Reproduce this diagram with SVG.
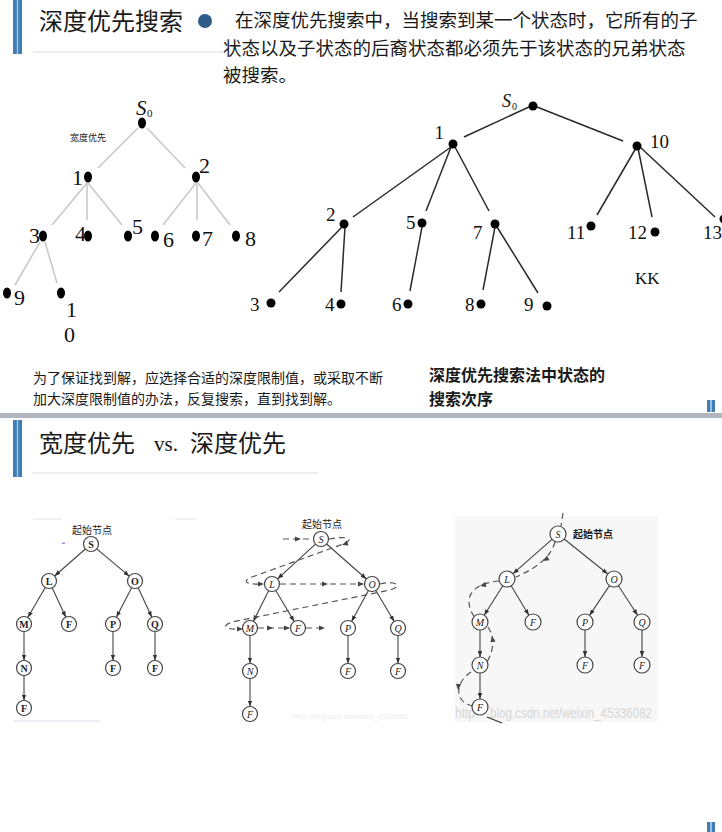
<svg xmlns="http://www.w3.org/2000/svg" xmlns:xlink="http://www.w3.org/1999/xlink" width="722" height="832" viewBox="0 0 722 832">
<style>
.cjk{font-family:"Noto Sans CJK SC","Noto Sans",sans-serif;fill:#1a1a1a}
.ser{font-family:"Liberation Serif","Times New Roman",serif;fill:#111}
.lt{stroke:#c9c9c9;stroke-width:1.6;fill:none}
.rt{stroke:#2a2a2a;stroke-width:1.5;fill:none}
.dot{fill:#000}
.te{stroke:#444;stroke-width:1.1;fill:none;marker-end:url(#ar)}
.nd{fill:#fff;stroke:#444;stroke-width:1.2}
.lb{font-family:"Liberation Serif","Times New Roman",serif;font-size:10px;fill:#222;text-anchor:middle}
.lbb{font-weight:bold}
.lbi{font-style:italic}
.ds{stroke:#555;stroke-width:1.2;fill:none;stroke-dasharray:6 4}
.bar{fill:#3f7db5}
.wm{font-family:"Liberation Sans",sans-serif}
</style>
<defs>
<marker id="ar" viewBox="0 0 8 6" refX="8" refY="3" markerWidth="6" markerHeight="5" orient="auto" markerUnits="userSpaceOnUse"><path d="M0,0 L8,3 L0,6 Z" fill="#333"/></marker>
<path id="ah" d="M0,0 L-6,-2.6 L-6,2.6 Z" fill="#444"/>
</defs>
<rect width="722" height="832" fill="#fff"/>

<!-- header 1 -->
<g id="header1">
<rect x="13" y="0" width="9" height="54" fill="#a9c4df"/>
<rect class="bar" x="13" y="0" width="3.8" height="54"/>
<rect class="bar" x="18.2" y="0" width="3.8" height="54"/>
<line x1="33" y1="52" x2="223" y2="52" stroke="#dedede" stroke-width="1"/>
<text class="cjk" x="39" y="30" font-size="24">深度优先搜索</text>
<circle cx="205" cy="21" r="7" fill="#2e5b87"/>
<text class="cjk" x="235" y="27" font-size="18.5">在深度优先搜索中，当搜索到某一个状态时，它所有的子</text>
<text class="cjk" x="223" y="55" font-size="18.5">状态以及子状态的后裔状态都必须先于该状态的兄弟状态</text>
<text class="cjk" x="223" y="82" font-size="18.5">被搜索。</text>
</g>

<!-- left tree (breadth first) -->
<g id="conn-left">
<line class="lt" x1="138" y1="128" x2="98" y2="168"/>
<line class="lt" x1="147" y1="128" x2="185" y2="168"/>
<line class="lt" x1="87" y1="183" x2="52" y2="225"/>
<line class="lt" x1="87" y1="183" x2="87" y2="220"/>
<line class="lt" x1="88" y1="183" x2="122" y2="225"/>
<line class="lt" x1="196" y1="183" x2="163" y2="225"/>
<line class="lt" x1="197" y1="183" x2="197" y2="220"/>
<line class="lt" x1="198" y1="183" x2="230" y2="225"/>
<line class="lt" x1="40" y1="242" x2="15" y2="285"/>
<line class="lt" x1="45" y1="242" x2="57" y2="283"/>
</g>
<g id="ltree-S0"><ellipse class="dot" cx="142" cy="123" rx="4" ry="5.5"/><text class="ser" x="136" y="115" font-size="21" font-style="italic">S</text><text class="ser" x="147" y="117" font-size="11">0</text></g>
<text class="cjk" x="70" y="141" font-size="9" fill="#333">宽度优先</text>
<g id="ltree-1"><ellipse class="dot" cx="88" cy="177" rx="4" ry="5.5"/><text class="ser" x="83" y="185" font-size="22" text-anchor="end">1</text></g>
<g id="ltree-2"><ellipse class="dot" cx="196" cy="177" rx="4" ry="5.5"/><text class="ser" x="199" y="173" font-size="22">2</text></g>
<g id="ltree-3"><ellipse class="dot" cx="43" cy="236" rx="4" ry="5.5"/><text class="ser" x="40" y="243" font-size="22" text-anchor="end">3</text></g>
<g id="ltree-4"><ellipse class="dot" cx="88" cy="236" rx="4" ry="5.5"/><text class="ser" x="86" y="241" font-size="22" text-anchor="end">4</text></g>
<g id="ltree-5"><ellipse class="dot" cx="128" cy="236" rx="4" ry="5.5"/><text class="ser" x="132" y="234" font-size="22">5</text></g>
<g id="ltree-6"><ellipse class="dot" cx="155" cy="236" rx="4" ry="5.5"/><text class="ser" x="163" y="247" font-size="22">6</text></g>
<g id="ltree-7"><ellipse class="dot" cx="196" cy="236" rx="4" ry="5.5"/><text class="ser" x="202" y="246" font-size="22">7</text></g>
<g id="ltree-8"><ellipse class="dot" cx="236" cy="236" rx="4" ry="5.5"/><text class="ser" x="245" y="246" font-size="22">8</text></g>
<g id="ltree-9"><ellipse class="dot" cx="7" cy="293" rx="4" ry="5.5"/><text class="ser" x="14" y="305" font-size="22">9</text></g>
<g id="ltree-10"><ellipse class="dot" cx="61" cy="293" rx="4" ry="5.5"/><text class="ser" x="66" y="317" font-size="22">1</text><text class="ser" x="64" y="342" font-size="22">0</text></g>

<!-- right tree (depth first) -->
<g id="conn-right">
<line class="rt" x1="529" y1="107" x2="464" y2="137"/>
<line class="rt" x1="537" y1="107" x2="623" y2="141"/>
<line class="rt" x1="451" y1="147" x2="353" y2="217"/>
<line class="rt" x1="451" y1="147" x2="426" y2="211"/>
<line class="rt" x1="455" y1="147" x2="489" y2="211"/>
<line class="rt" x1="636" y1="148" x2="597" y2="215"/>
<line class="rt" x1="638" y1="148" x2="652" y2="217"/>
<line class="rt" x1="640" y1="147" x2="715" y2="217"/>
<line class="rt" x1="342" y1="227" x2="279" y2="292"/>
<line class="rt" x1="345" y1="227" x2="341" y2="292"/>
<line class="rt" x1="422" y1="227" x2="410" y2="291"/>
<line class="rt" x1="495" y1="227" x2="483" y2="290"/>
<line class="rt" x1="497" y1="227" x2="538" y2="293"/>
</g>
<g id="rtree-S0"><circle class="dot" cx="533" cy="106" r="4.5"/><text class="ser" x="502" y="107" font-size="18" font-style="italic">S</text><text class="ser" x="512" y="110" font-size="10">0</text></g>
<g id="rtree-1"><circle class="dot" cx="453" cy="144" r="4.5"/><text class="ser" x="444" y="139" font-size="19" text-anchor="end">1</text></g>
<g id="rtree-10"><circle class="dot" cx="637" cy="146" r="4.5"/><text class="ser" x="650" y="148" font-size="19">10</text></g>
<g id="rtree-2"><circle class="dot" cx="344" cy="224" r="4.5"/><text class="ser" x="326" y="221" font-size="19">2</text></g>
<g id="rtree-5"><circle class="dot" cx="422" cy="223" r="4.5"/><text class="ser" x="406" y="229" font-size="19">5</text></g>
<g id="rtree-7"><circle class="dot" cx="495" cy="224" r="4.5"/><text class="ser" x="473" y="239" font-size="19">7</text></g>
<g id="rtree-11"><circle class="dot" cx="591" cy="226" r="4.5"/><text class="ser" x="567" y="239" font-size="19">11</text></g>
<g id="rtree-12"><circle class="dot" cx="655" cy="232" r="4.5"/><text class="ser" x="628" y="239" font-size="19">12</text></g>
<g id="rtree-13"><circle class="dot" cx="724" cy="219" r="4.5"/><text class="ser" x="703" y="239" font-size="19">13</text></g>
<g id="rtree-3"><circle class="dot" cx="271" cy="303" r="4.5"/><text class="ser" x="250" y="311" font-size="19">3</text></g>
<g id="rtree-4"><circle class="dot" cx="341" cy="304" r="4.5"/><text class="ser" x="325" y="311" font-size="19">4</text></g>
<g id="rtree-6"><circle class="dot" cx="408" cy="304" r="4.5"/><text class="ser" x="392" y="311" font-size="19">6</text></g>
<g id="rtree-8"><circle class="dot" cx="481" cy="304" r="4.5"/><text class="ser" x="465" y="311" font-size="19">8</text></g>
<g id="rtree-9"><circle class="dot" cx="547" cy="306" r="4.5"/><text class="ser" x="524" y="311" font-size="19">9</text></g>
<text class="ser" x="635" y="284" font-size="17">KK</text>

<!-- captions -->
<g id="captions">
<text class="cjk" x="33" y="383" font-size="14">为了保证找到解，应选择合适的深度限制值，或采取不断</text>
<text class="cjk" x="33" y="404" font-size="14">加大深度限制值的办法，反复搜索，直到找到解。</text>
<text class="cjk" x="429" y="381" font-size="16" font-weight="bold">深度优先搜索法中状态的</text>
<text class="cjk" x="429" y="405" font-size="16" font-weight="bold">搜索次序</text>
</g>
<rect x="707" y="400" width="3.5" height="12" class="bar"/><rect x="711.5" y="400" width="3.5" height="12" class="bar"/>
<rect x="0" y="413" width="722" height="5" fill="#b1b5bd"/>

<!-- header 2 -->
<g id="header2">
<rect x="13" y="420" width="9" height="57" fill="#a9c4df"/>
<rect class="bar" x="13" y="420" width="3.8" height="57"/>
<rect class="bar" x="18.2" y="420" width="3.8" height="57"/>
<line x1="33" y1="473" x2="318" y2="473" stroke="#dedede" stroke-width="1"/>
<text class="cjk" x="39" y="452" font-size="24">宽度优先</text>
<text class="ser" x="154" y="451" font-size="21">vs.</text>
<text class="cjk" x="190" y="452" font-size="24">深度优先</text>
</g>

<!-- tree A: breadth first picture -->
<g id="treeA">
<line x1="33" y1="519" x2="62" y2="519" stroke="#e4e4e4" stroke-width="1"/>
<line x1="175" y1="519" x2="196" y2="519" stroke="#e4e4e4" stroke-width="1"/>
<line x1="13" y1="721" x2="100" y2="721" stroke="#e6e9f2" stroke-width="1.5"/>
<rect x="62" y="542.5" width="3" height="1.5" fill="#b48ad0"/>
<text class="cjk" x="72" y="534" font-size="10" fill="#333">起始节点</text>
<g id="treeA-conn">
<line class="te" x1="85.4" y1="549" x2="54.6" y2="576"/>
<line class="te" x1="96.7" y1="548.8" x2="129.3" y2="576.2"/>
<line class="te" x1="45.2" y1="587.5" x2="27.8" y2="617.5"/>
<line class="te" x1="52.2" y1="587.8" x2="65.8" y2="617.2"/>
<line class="te" x1="131.6" y1="587.7" x2="116.4" y2="617.3"/>
<line class="te" x1="138.2" y1="587.8" x2="151.8" y2="617.2"/>
<line class="te" x1="24" y1="631.5" x2="24" y2="660.5"/>
<line class="te" x1="24" y1="675.5" x2="24" y2="700.5"/>
<line class="te" x1="113" y1="631.5" x2="113" y2="660.5"/>
<line class="te" x1="155" y1="631.5" x2="155" y2="660.5"/>
</g>
<g id="A-S"><circle class="nd" cx="91" cy="544" r="7.5"/><text class="lb lbb" x="91" y="547.5">S</text></g>
<g id="A-L"><circle class="nd" cx="49" cy="581" r="7.5"/><text class="lb lbb" x="49" y="584.5">L</text></g>
<g id="A-O"><circle class="nd" cx="135" cy="581" r="7.5"/><text class="lb lbb" x="135" y="584.5">O</text></g>
<g id="A-M"><circle class="nd" cx="24" cy="624" r="7.5"/><text class="lb lbb" x="24" y="627.5">M</text></g>
<g id="A-F1"><circle class="nd" cx="69" cy="624" r="7.5"/><text class="lb lbb" x="69" y="627.5">F</text></g>
<g id="A-P"><circle class="nd" cx="113" cy="624" r="7.5"/><text class="lb lbb" x="113" y="627.5">P</text></g>
<g id="A-Q"><circle class="nd" cx="155" cy="624" r="7.5"/><text class="lb lbb" x="155" y="627.5">Q</text></g>
<g id="A-N"><circle class="nd" cx="24" cy="668" r="7.5"/><text class="lb lbb" x="24" y="671.5">N</text></g>
<g id="A-F2"><circle class="nd" cx="24" cy="708" r="7.5"/><text class="lb lbb" x="24" y="711.5">F</text></g>
<g id="A-F3"><circle class="nd" cx="113" cy="668" r="7.5"/><text class="lb lbb" x="113" y="671.5">F</text></g>
<g id="A-F4"><circle class="nd" cx="155" cy="668" r="7.5"/><text class="lb lbb" x="155" y="671.5">F</text></g>
</g>

<!-- tree B: breadth first traversal -->
<g id="treeB">
<text class="wm" x="293" y="719" font-size="8" fill="#ececec" textLength="115" lengthAdjust="spacingAndGlyphs">https://blog.csdn.net/weixin_45336082</text>
<text class="cjk" x="302" y="528" font-size="10" fill="#333">起始节点</text>
<g id="treeB-conn">
<line class="te" x1="315.5" y1="544.1" x2="277.5" y2="578.9"/>
<line class="te" x1="326.6" y1="544" x2="366.4" y2="579"/>
<line class="te" x1="268.6" y1="590.7" x2="253.4" y2="621.3"/>
<line class="te" x1="275.8" y1="590.5" x2="294.2" y2="621.5"/>
<line class="te" x1="368.4" y1="590.6" x2="351.6" y2="621.4"/>
<line class="te" x1="375.8" y1="590.5" x2="394.2" y2="621.5"/>
<line class="te" x1="250" y1="635.5" x2="250" y2="663.5"/>
<line class="te" x1="250" y1="678.5" x2="250" y2="706.5"/>
<line class="te" x1="348" y1="635.5" x2="348" y2="663.5"/>
<line class="te" x1="398" y1="635.5" x2="398" y2="663.5"/>
<path class="ds" d="M283,539 L312,539"/>
<path class="ds" d="M329,539 C345,536 354,538 346,543 L252,577 C242,581 245,585 262,584"/>
<path class="ds" d="M280,584 L363,584"/>
<path class="ds" d="M380,584 C395,580 404,586 390,590 L232,622 C221,626 225,630 241,629"/>
<path class="ds" d="M258,628 L289,628"/>
<path class="ds" d="M306,628 L324,628"/>
<use xlink:href="#ah" transform="translate(301,539)"/>
<use xlink:href="#ah" transform="translate(342,545) rotate(160)"/>
<use xlink:href="#ah" transform="translate(264,584)"/>
<use xlink:href="#ah" transform="translate(328,584)"/>
<use xlink:href="#ah" transform="translate(364,584)"/>
<use xlink:href="#ah" transform="translate(243,629)"/>
<use xlink:href="#ah" transform="translate(273,628)"/>
<use xlink:href="#ah" transform="translate(290,628)"/>
<use xlink:href="#ah" transform="translate(325,628)"/>
</g>
<g id="B-S"><circle class="nd" cx="321" cy="539" r="7.5"/><text class="lb lbi" x="321" y="542.5">S</text></g>
<g id="B-L"><circle class="nd" cx="272" cy="584" r="7.5"/><text class="lb lbi" x="272" y="587.5">L</text></g>
<g id="B-O"><circle class="nd" cx="372" cy="584" r="7.5"/><text class="lb lbi" x="372" y="587.5">O</text></g>
<g id="B-M"><circle class="nd" cx="250" cy="628" r="7.5"/><text class="lb lbi" x="250" y="631.5">M</text></g>
<g id="B-F1"><circle class="nd" cx="298" cy="628" r="7.5"/><text class="lb lbi" x="298" y="631.5">F</text></g>
<g id="B-P"><circle class="nd" cx="348" cy="628" r="7.5"/><text class="lb lbi" x="348" y="631.5">P</text></g>
<g id="B-Q"><circle class="nd" cx="398" cy="628" r="7.5"/><text class="lb lbi" x="398" y="631.5">Q</text></g>
<g id="B-N"><circle class="nd" cx="250" cy="671" r="7.5"/><text class="lb lbi" x="250" y="674.5">N</text></g>
<g id="B-F2"><circle class="nd" cx="250" cy="714" r="7.5"/><text class="lb lbi" x="250" y="717.5">F</text></g>
<g id="B-F3"><circle class="nd" cx="348" cy="671" r="7.5"/><text class="lb lbi" x="348" y="674.5">F</text></g>
<g id="B-F4"><circle class="nd" cx="398" cy="671" r="7.5"/><text class="lb lbi" x="398" y="674.5">F</text></g>
</g>

<!-- tree C: depth first traversal -->
<g id="treeC">
<rect x="455" y="516" width="203" height="206" fill="#f7f7f7"/>
<text class="wm" x="455" y="718" font-size="14" fill="#d6d6d6" textLength="20" lengthAdjust="spacingAndGlyphs">http</text>
<text class="wm" x="490" y="718" font-size="14" fill="#d6d6d6" textLength="162" lengthAdjust="spacingAndGlyphs">blog.csdn.net/weixin_45336082</text>
<text class="cjk" x="573" y="538" font-size="10" font-weight="bold" fill="#333">起始节点</text>
<g id="treeC-conn">
<line class="te" x1="552" y1="539.3" x2="513" y2="573.7"/>
<line class="te" x1="564.2" y1="539" x2="607.8" y2="574"/>
<line class="te" x1="502.8" y1="585.8" x2="484.2" y2="615.2"/>
<line class="te" x1="511.1" y1="585.8" x2="528.9" y2="615.2"/>
<line class="te" x1="609.5" y1="585.6" x2="589.5" y2="615.4"/>
<line class="te" x1="618.4" y1="585.7" x2="637.6" y2="615.3"/>
<line class="te" x1="480" y1="630" x2="480" y2="657"/>
<line class="te" x1="480" y1="673" x2="480" y2="699"/>
<line class="te" x1="585" y1="630" x2="585" y2="657"/>
<line class="te" x1="642" y1="630" x2="642" y2="657"/>
<path class="ds" d="M563,513 L561,526"/>
<path class="ds" d="M555,542 Q550,562 516,577"/>
<path class="ds" d="M499,581 C485,582 470,588 469,600 C469,608 471,612 474,616"/>
<path class="ds" d="M488,627 C494,636 495,648 487,662"/>
<path class="ds" d="M471,672 C462,678 456,688 460,697 C463,703 468,705 473,706"/>
<line x1="487" y1="717" x2="502" y2="723" stroke="#333" stroke-width="1.2"/>
<use xlink:href="#ah" transform="translate(543,561) rotate(150)"/>
<use xlink:href="#ah" transform="translate(480,586) rotate(165)"/>
<use xlink:href="#ah" transform="translate(492,636) rotate(-100)"/>
<use xlink:href="#ah" transform="translate(458,690) rotate(95)"/>
</g>
<g id="C-S"><circle class="nd" cx="558" cy="534" r="8"/><text class="lb lbi" x="558" y="537.5">S</text></g>
<g id="C-L"><circle class="nd" cx="507" cy="579" r="8"/><text class="lb lbi" x="507" y="582.5">L</text></g>
<g id="C-O"><circle class="nd" cx="614" cy="579" r="8"/><text class="lb lbi" x="614" y="582.5">O</text></g>
<g id="C-M"><circle class="nd" cx="480" cy="622" r="8"/><text class="lb lbi" x="480" y="625.5">M</text></g>
<g id="C-F1"><circle class="nd" cx="533" cy="622" r="8"/><text class="lb lbi" x="533" y="625.5">F</text></g>
<g id="C-P"><circle class="nd" cx="585" cy="622" r="8"/><text class="lb lbi" x="585" y="625.5">P</text></g>
<g id="C-Q"><circle class="nd" cx="642" cy="622" r="8"/><text class="lb lbi" x="642" y="625.5">Q</text></g>
<g id="C-N"><circle class="nd" cx="480" cy="665" r="8"/><text class="lb lbi" x="480" y="668.5">N</text></g>
<g id="C-F2"><circle class="nd" cx="480" cy="707" r="8"/><text class="lb lbi" x="480" y="710.5">F</text></g>
<g id="C-F3"><circle class="nd" cx="585" cy="665" r="8"/><text class="lb lbi" x="585" y="668.5">F</text></g>
<g id="C-F4"><circle class="nd" cx="642" cy="665" r="8"/><text class="lb lbi" x="642" y="668.5">F</text></g>
</g>

<rect x="707" y="822" width="3.5" height="10" class="bar"/><rect x="711.5" y="822" width="3.5" height="10" class="bar"/>
</svg>
